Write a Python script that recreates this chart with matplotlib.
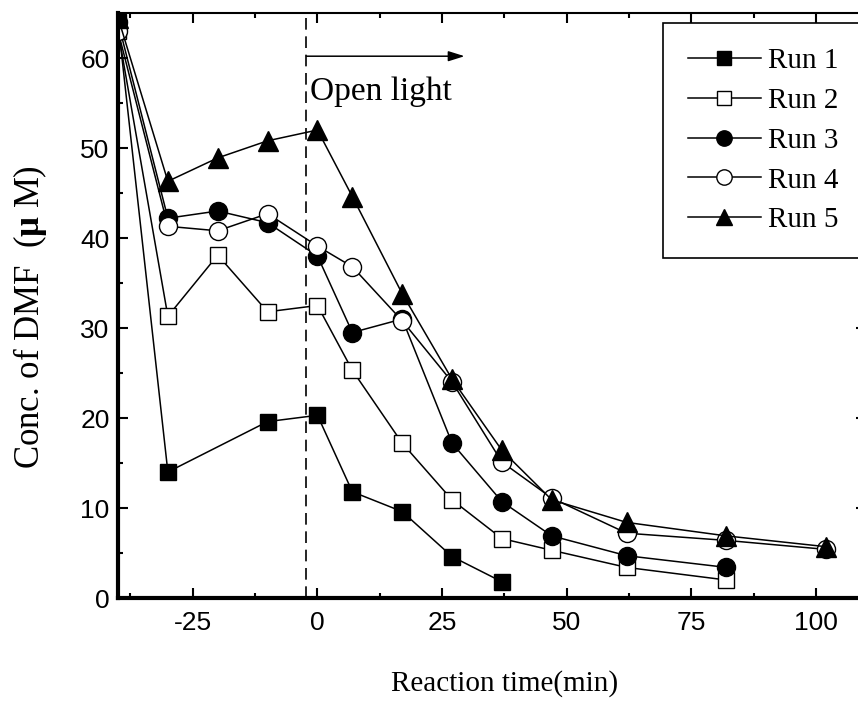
import numpy as np
import matplotlib
matplotlib.use("Agg")
import matplotlib.pyplot as plt

# reaction times (min) and DMF concentration (uM) for each run
t_run1 = [-40, -30, -10, 0, 7, 17, 27, 37]
c_run1 = [64, 14.0, 19.6, 20.3, 11.8, 9.6, 4.6, 1.8]

t_run2 = [-40, -30, -20, -10, 0, 7, 17, 27, 37, 47, 62, 82]
c_run2 = [63, 31.3, 38.1, 31.8, 32.5, 25.3, 17.2, 10.9, 6.6, 5.3, 3.4, 2.0]

t_run3 = [-40, -30, -20, -10, 0, 7, 17, 27, 37, 47, 62, 82]
c_run3 = [64, 42.2, 43.0, 41.7, 38.0, 29.5, 31.0, 17.2, 10.7, 6.9, 4.7, 3.4]

t_run4 = [-40, -30, -20, -10, 0, 7, 17, 27, 37, 47, 62, 82, 102]
c_run4 = [63, 41.3, 40.8, 42.7, 39.1, 36.8, 30.8, 24.0, 15.1, 11.1, 7.2, 6.4, 5.4]

t_run5 = [-40, -30, -20, -10, 0, 7, 17, 27, 37, 47, 62, 82, 102]
c_run5 = [64.5, 46.3, 48.9, 50.8, 52.0, 44.6, 33.8, 24.3, 16.4, 10.9, 8.4, 6.9, 5.7]

labels = ["Run 1", "Run 2", "Run 3", "Run 4", "Run 5"]

light_on = -2.2

plt.rcParams['font.family'] = ['Liberation Serif']
plt.rcParams['axes.unicode_minus'] = False
plt.rcParams['mathtext.fontset'] = 'custom'
plt.rcParams['mathtext.rm'] = 'Liberation Serif'
plt.rcParams['mathtext.bf'] = 'Liberation Serif:bold'

fig = plt.figure(figsize=(8.58, 7.02), dpi=100)
ax = fig.add_axes([118/858, 104/702, 748/858, 585/702])

styles = [
    dict(marker='s', mfc='k', ms=12),
    dict(marker='s', mfc='w', ms=12),
    dict(marker='o', mfc='k', ms=13),
    dict(marker='o', mfc='w', ms=13),
    dict(marker='^', mfc='k', ms=14),
]
series = [(t_run1, c_run1), (t_run2, c_run2), (t_run3, c_run3),
          (t_run4, c_run4), (t_run5, c_run5)]
for (t, c), lab, st in zip(series, labels, styles):
    ax.plot(t, c, color='k', lw=1.1, mec='k', mew=1.0, label=lab, **st)

ax.axvline(light_on, color='k', lw=1.2, linestyle=(0, (7, 4)))
ax.annotate('', xy=(29.5, 60.2), xytext=(light_on, 60.2),
            arrowprops=dict(arrowstyle='-|>,head_length=0.7,head_width=0.22',
                            color='k', lw=1.1, mutation_scale=14,
                            shrinkA=0, shrinkB=0))
ax.text(light_on + 0.8, 56.3, 'Open light', fontsize=24, va='center', ha='left')

ax.set_xlim(-40, 110)
ax.set_ylim(0, 65)
ax.set_xticks([-25, 0, 25, 50, 75, 100])
ax.set_xticks(np.arange(-37.5, 110, 12.5), minor=True)
ax.set_yticks(np.arange(0, 61, 10))
ax.set_yticks(np.arange(5, 65, 10), minor=True)
ax.tick_params(which='both', direction='in', top=True, right=True,
               width=1.5, labelsize=19)
ax.tick_params(which='major', length=7)
ax.tick_params(which='minor', length=3.5)
ax.tick_params(axis='x', pad=9)
ax.tick_params(axis='y', pad=6)
for lbl in ax.get_xticklabels() + ax.get_yticklabels():
    lbl.set_family('Liberation Sans')

ax.spines['left'].set_linewidth(3)
ax.spines['bottom'].set_linewidth(3)
ax.spines['top'].set_linewidth(1.5)
ax.spines['right'].set_linewidth(1.5)

ax.text(0.517, -0.147, 'Reaction time(min)', transform=ax.transAxes,
        fontsize=21, ha='center', va='center')
ax.text(-0.117, 0.48, r'Conc. of DMF  ($\mathbf{μ}$ M)', transform=ax.transAxes,
        fontsize=25, ha='center', va='center', rotation=90)

leg = ax.legend(loc='upper left', bbox_to_anchor=(0.7286, 0.983),
                borderaxespad=0, fontsize=21, handlelength=2.5,
                handletextpad=0.25, labelspacing=0.46,
                borderpad=0.85, markerscale=0.85,
                fancybox=False, framealpha=1, edgecolor='k')
leg.get_frame().set_linewidth(1.2)

fig.savefig('out.png', dpi=100)
